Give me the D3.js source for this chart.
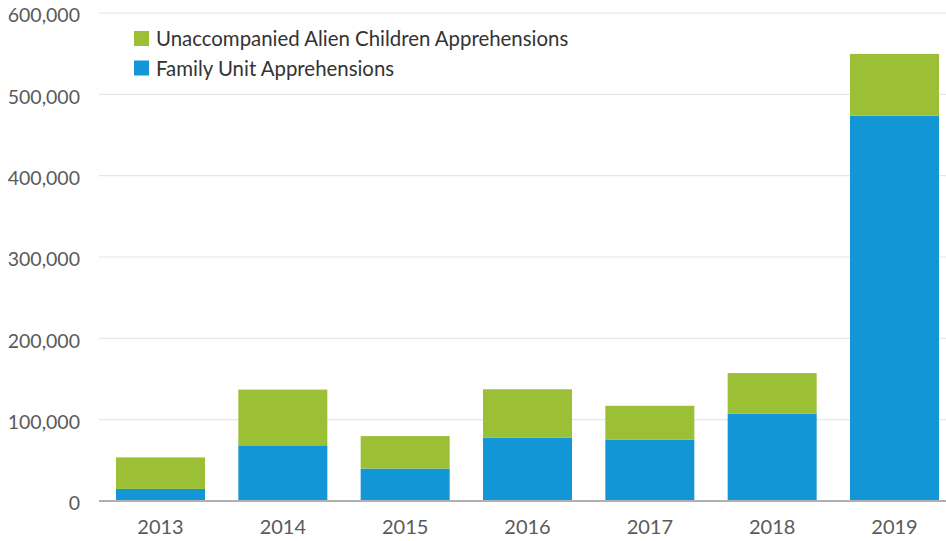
<!DOCTYPE html>
<html><head><meta charset="utf-8">
<script src="https://cdn.jsdelivr.net/npm/d3@7"></script>
<style>body{margin:0;background:#fff}svg{display:block}text{font-family:Lato,"Open Sans",sans-serif}</style>
</head><body><svg id="c" width="946" height="541"></svg>
<script>
const years = ["2013","2014","2015","2016","2017","2018","2019"];
const familyUnit = [14855, 68445, 39838, 77674, 75622, 107212, 473682];
const unaccompanied = [38759, 68541, 39970, 59692, 41435, 50036, 76020];
const yTicks = [0, 100000, 200000, 300000, 400000, 500000, 600000];
const seriesNames = ["Unaccompanied Alien Children Apprehensions", "Family Unit Apprehensions"];
const colors = {green: "#9bc036", blue: "#1396d6"};

const W = 946, H = 541;
const mLeft = 99, mBottom = 501, mTop = 13;
const svg = d3.select("#c");
const x = d3.scaleBand().domain(years).range([mLeft, 956]).paddingInner(0.2725).paddingOuter(0.139);
const y = d3.scaleLinear().domain([0, 600000]).range([mBottom, mTop]);

// gridlines
svg.append("g").selectAll("line").data(yTicks.filter(d => d > 0)).join("line")
  .attr("x1", mLeft).attr("x2", W).attr("y1", d => y(d)).attr("y2", d => y(d))
  .attr("stroke", "#e6e6e6").attr("stroke-width", 1.2);

// y axis labels
const yAxis = svg.append("g").attr("transform", `translate(80,2)`)
  .call(d3.axisLeft(y).tickValues(yTicks).tickFormat(d3.format(",")).tickSize(0).tickPadding(0));
yAxis.select(".domain").remove();
yAxis.selectAll("text").attr("font-size", 19.5).attr("fill", "#5a5a5a").attr("dy", "0.35em").style("font-family", "Lato,'Open Sans',sans-serif");

// bars
const data = years.map((yr, i) => ({yr, fu: familyUnit[i], uac: unaccompanied[i]}));
svg.append("g").selectAll("rect").data(data).join("rect")
  .attr("x", d => x(d.yr)).attr("width", x.bandwidth())
  .attr("y", d => y(d.fu)).attr("height", d => y(0) - y(d.fu)).attr("fill", colors.blue);
svg.append("g").selectAll("rect").data(data).join("rect")
  .attr("x", d => x(d.yr)).attr("width", x.bandwidth())
  .attr("y", d => y(d.fu + d.uac)).attr("height", d => y(d.fu) - y(d.fu + d.uac)).attr("fill", colors.green);

// x axis
const xAxis = svg.append("g").attr("transform", `translate(0,${mBottom})`)
  .call(d3.axisBottom(x).tickSize(0).tickPadding(19));
xAxis.select(".domain").remove();
xAxis.selectAll("text").attr("font-size", 20).attr("fill", "#5a5a5a").style("font-family", "Lato,'Open Sans',sans-serif");
svg.append("line").attr("x1", mLeft).attr("x2", W).attr("y1", mBottom).attr("y2", mBottom)
  .attr("stroke", "#b0b0b4").attr("stroke-width", 2);

// legend
const leg = svg.append("g").attr("transform", "translate(134,31)");
const legColors = [colors.green, colors.blue];
seriesNames.forEach((n, i) => {
  leg.append("rect").attr("x", 0).attr("y", i * 29.5).attr("width", 15).attr("height", 15).attr("fill", legColors[i]);
  leg.append("text").attr("x", 22).attr("y", i * 29.5 + 7.5).attr("dy", "0.37em")
    .attr("font-size", 20.4).attr("fill", "#333").text(n);
});
</script></body></html>
